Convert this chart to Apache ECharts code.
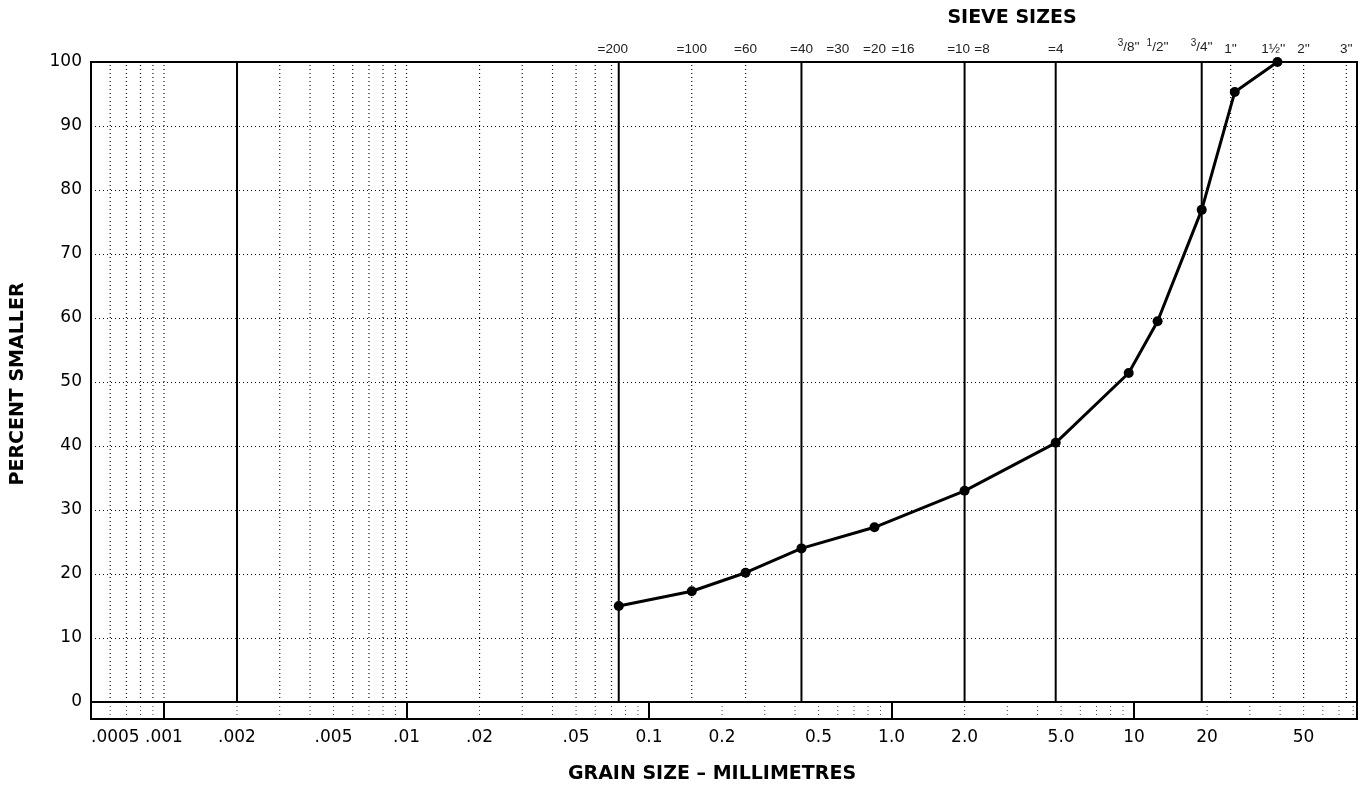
<!DOCTYPE html>
<html><head><meta charset="utf-8">
<script src="https://cdn.jsdelivr.net/npm/echarts@6/dist/echarts.min.js"></script>
<style>html,body{margin:0;padding:0;background:#fff}#c{width:1364px;height:788px}</style>
</head><body><div id="c"></div>
<script>
// ---- data ----
const grainSizes = [0.075, 0.15, 0.25, 0.425, 0.85, 2.0, 4.75, 9.5, 12.5, 19, 26, 39];
const percentSmaller = [15.0, 17.3, 20.2, 24.0, 27.3, 33.0, 40.5, 51.4, 59.5, 76.9, 95.3, 100];

const sizeTickValues = [0.0005, 0.001, 0.002, 0.005, 0.01, 0.02, 0.05, 0.1, 0.2, 0.5, 1, 2, 5, 10, 20, 50];
const sizeTickLabels = ['.0005', '.001', '.002', '.005', '.01', '.02', '.05', '0.1', '0.2', '0.5', '1.0', '2.0', '5.0', '10', '20', '50'];

const sieveValues = [0.075, 0.15, 0.25, 0.425, 0.6, 0.85, 1.18, 2.0, 2.36, 4.75, 9.5, 12.5, 19, 25, 37.5, 50, 75];
const sieveLabels = ['=200', '=100', '=60', '=40', '=30', '=20', '=16', '=10', '=8', '=4', '3/8\'\'', '1/2\'\'', '3/4\'\'', '1\'\'', '1½\'\'', '2\'\'', '3\'\''];

const solidLines = [0.002, 0.075, 0.425, 2.0, 4.75, 19];
const dottedLines = [0.0006, 0.0007, 0.0008, 0.0009, 0.001,
  0.003, 0.004, 0.005, 0.006, 0.007, 0.008, 0.009, 0.01,
  0.02, 0.03, 0.04, 0.05, 0.06, 0.07,
  0.15, 0.25, 25, 37.5, 50, 75];
const stripDotted = [0.0006, 0.0007, 0.0008, 0.0009,
  0.002, 0.003, 0.004, 0.005, 0.006, 0.007, 0.008, 0.009,
  0.02, 0.03, 0.04, 0.05, 0.06, 0.07, 0.08, 0.09,
  0.2, 0.3, 0.4, 0.5, 0.6, 0.7, 0.8, 0.9,
  2, 3, 4, 5, 6, 7, 8, 9,
  20, 30, 40, 50, 60, 70, 80];

const X_MIN = 0.0005, X_MAX = 83;

function findLabel(vals, labels, v) {
  for (let i = 0; i < vals.length; i++) {
    if (Math.abs(Math.log10(vals[i]) - Math.log10(v)) < 1e-4) return labels[i];
  }
  return '';
}

function sieveRich(v) {
  const t = findLabel(sieveValues, sieveLabels, v);
  const m = t.match(/^(\d)\/(\d)(.*)$/);
  if (m) return '{s|' + m[1] + '}{n|/' + m[2] + m[3] + '}';
  if (t === '=10' || t === '=16' || t === '=200') return '{l|' + t + '}';
  return '{n|' + t + '}';
}

function vLines(vals, xi, yi, y0, y1, lineStyle, z) {
  return vals.map(v => ({
    type: 'line', xAxisIndex: xi, yAxisIndex: yi, silent: true, z: z,
    showSymbol: false, symbol: 'none', lineStyle: lineStyle,
    emphasis: {disabled: true}, tooltip: {show: false},
    data: [[v, y0], [v, y1]]
  }));
}

const chart = echarts.init(document.getElementById('c'), null, {renderer: 'canvas'});
const FONT = 'DejaVu Sans';
const dotStyle = {color: '#111', width: 1.2, type: [1, 3]};

const option = {
  animation: false,
  backgroundColor: '#fff',
  grid: [
    {left: 91, right: 7, top: 62, height: 640, show: true, borderColor: '#000', borderWidth: 2, backgroundColor: 'transparent', z: 3},
    {left: 91, right: 7, top: 702, height: 17, show: true, borderColor: '#000', borderWidth: 2, backgroundColor: 'transparent', z: 3}
  ],
  xAxis: [
    {type: 'log', gridIndex: 0, min: X_MIN, max: X_MAX, show: false},
    {type: 'log', gridIndex: 0, position: 'top', min: X_MIN, max: X_MAX,
      axisLine: {show: false}, axisTick: {show: false}, splitLine: {show: false},
      axisLabel: {customValues: sieveValues, margin: 6, formatter: sieveRich,
        rich: {
          n: {fontFamily: 'Liberation Sans', fontSize: 13.5, color: '#222'},
          l: {fontFamily: 'Liberation Sans', fontSize: 13.5, color: '#222', padding: [0, 12, 0, 0]},
          s: {fontFamily: 'Liberation Sans', fontSize: 10, color: '#222', padding: [0, 0, 8, 0]}
        }}},
    {type: 'log', gridIndex: 1, min: X_MIN, max: X_MAX,
      axisLine: {show: false}, splitLine: {show: false},
      axisTick: {show: true, inside: true, length: 17, lineStyle: {color: '#000', width: 2}},
      axisLabel: {customValues: sizeTickValues, alignMinLabel: 'left', fontFamily: FONT, fontSize: 17, color: '#000', margin: 10,
        formatter: v => findLabel(sizeTickValues, sizeTickLabels, v)}}
  ],
  yAxis: [
    {type: 'value', gridIndex: 0, min: 0, max: 100, interval: 10,
      axisLine: {show: false}, axisTick: {show: false},
      axisLabel: {fontFamily: FONT, fontSize: 17, color: '#000', margin: 9},
      splitLine: {show: true, lineStyle: dotStyle}},
    {type: 'value', gridIndex: 1, min: 0, max: 1, show: false}
  ],
  graphic: [
    {type: 'text', style: {text: 'SIEVE SIZES', x: 1012, y: 18, align: 'center', verticalAlign: 'middle', font: 'bold 19px "DejaVu Sans"', fill: '#000'}},
    {type: 'text', style: {text: 'GRAIN SIZE – MILLIMETRES', x: 712, y: 774, align: 'center', verticalAlign: 'middle', font: 'bold 19px "DejaVu Sans"', fill: '#000'}},
    {type: 'text', x: 18, y: 384, rotation: Math.PI / 2, style: {text: 'PERCENT SMALLER', x: 0, y: 0, align: 'center', verticalAlign: 'middle', font: 'bold 19px "DejaVu Sans"', fill: '#000'}}
  ],
  series: [].concat(
    vLines(dottedLines, 0, 0, 0, 100, dotStyle, 1),
    vLines(solidLines, 0, 0, 0, 100, {color: '#000', width: 2, type: 'solid'}, 2),
    vLines(stripDotted, 2, 1, 0, 1, {color: '#444', width: 1, type: [1, 3]}, 1),
    [{type: 'line', name: 'Percent smaller', xAxisIndex: 0, yAxisIndex: 0, z: 5,
      data: grainSizes.map((s, i) => [s, percentSmaller[i]]),
      symbol: 'circle', symbolSize: 10, showSymbol: true,
      lineStyle: {color: '#000', width: 3},
      itemStyle: {color: '#000'}}]
  )
};
chart.setOption(option);
</script>
</body></html>
